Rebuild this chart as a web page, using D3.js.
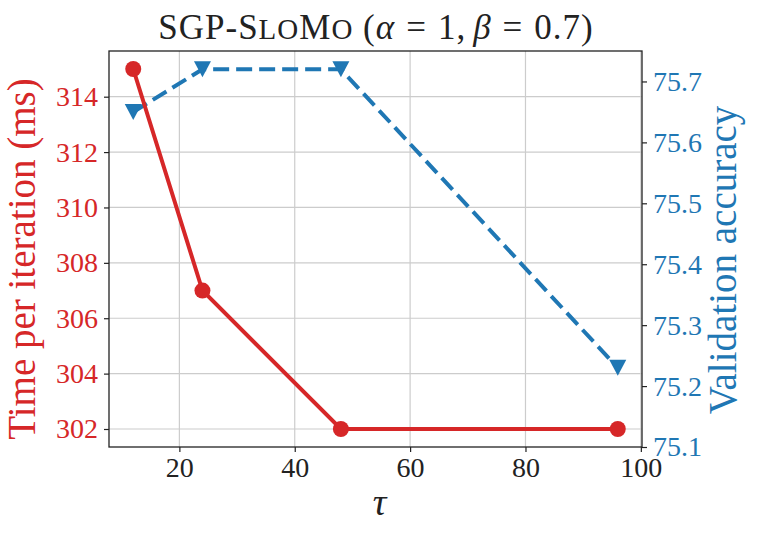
<!DOCTYPE html>
<html>
<head>
<meta charset="utf-8">
<script src="https://cdn.jsdelivr.net/npm/d3@7"></script>
<style>
  body { margin: 0; background: #fff; }
  svg text { font-family: "Liberation Serif", "Times New Roman", serif; }
</style>
</head>
<body>
<script>
// data
var taus = [12, 24, 48, 96];
var timeMs = [315, 307, 302, 302];
var accuracy = [75.65, 75.72, 75.72, 75.23];
var xTicks = [20, 40, 60, 80, 100];
var timeTicks = [302, 304, 306, 308, 310, 312, 314];
var accTicks = [75.1, 75.2, 75.3, 75.4, 75.5, 75.6, 75.7];

var red = "#d62728", blue = "#1f77b4";
var margin = {left: 109, right: 119, top: 51, bottom: 94};
var width = 761 - margin.left - margin.right;
var height = 541 - margin.top - margin.bottom;

var svg = d3.select("body").append("svg")
  .attr("width", 761)
  .attr("height", 541);

var g = svg.append("g")
  .attr("transform", "translate(" + margin.left + "," + margin.top + ")");

var x = d3.scaleLinear().domain([7.8, 100.2]).range([0, width]);
var yL = d3.scaleLinear().domain([301.35, 315.65]).range([height, 0]);
var yR = d3.scaleLinear().domain([75.1, 75.75]).range([height, 0]);

// grid
g.append("g").selectAll("line").data(xTicks)
  .enter().append("line")
  .attr("x1", function(d) { return x(d); }).attr("x2", function(d) { return x(d); })
  .attr("y1", 0).attr("y2", height)
  .attr("stroke", "#cccccc").attr("stroke-width", 1.2);
g.append("g").selectAll("line").data(timeTicks)
  .enter().append("line")
  .attr("y1", function(d) { return yL(d); }).attr("y2", function(d) { return yL(d); })
  .attr("x1", 0).attr("x2", width)
  .attr("stroke", "#cccccc").attr("stroke-width", 1.2);

// axes
function styleAxis(sel, color) {
  sel.attr("font-family", null).attr("font-size", null);
  sel.select(".domain").remove();
  sel.selectAll(".tick line").attr("stroke", "#222").attr("stroke-width", 1.2);
  sel.selectAll(".tick text")
    .attr("fill", color)
    .attr("font-size", "28px");
}

g.append("g")
  .attr("transform", "translate(0," + height + ")")
  .call(d3.axisBottom(x).tickValues(xTicks).tickSize(5).tickPadding(5))
  .call(function(s) { styleAxis(s, "#222"); });

g.append("g")
  .call(d3.axisLeft(yL).tickValues(timeTicks).tickSize(5).tickPadding(6))
  .call(function(s) { styleAxis(s, red); });

g.append("g")
  .attr("transform", "translate(" + width + ",0)")
  .call(d3.axisRight(yR).tickValues(accTicks).tickSize(5).tickPadding(6).tickFormat(d3.format(".1f")))
  .call(function(s) { styleAxis(s, blue); });

// frame
g.append("rect")
  .attr("width", width).attr("height", height)
  .attr("fill", "none").attr("stroke", "#222").attr("stroke-width", 1.3);

// accuracy series (dashed, triangles)
var accLine = d3.line()
  .x(function(d, i) { return x(taus[i]); })
  .y(function(d) { return yR(d); });
g.append("path").datum(accuracy)
  .attr("d", accLine)
  .attr("fill", "none").attr("stroke", blue)
  .attr("stroke-width", 4).attr("stroke-dasharray", "16,7");
g.selectAll(".tri").data(accuracy).enter().append("path")
  .attr("class", "tri")
  .attr("transform", function(d, i) { return "translate(" + x(taus[i]) + "," + yR(d) + ")"; })
  .attr("d", "M-8.5,-8L8.5,-8L0,8Z")
  .attr("fill", blue);

// time series (solid, circles)
var timeLine = d3.line()
  .x(function(d, i) { return x(taus[i]); })
  .y(function(d) { return yL(d); });
g.append("path").datum(timeMs)
  .attr("d", timeLine)
  .attr("fill", "none").attr("stroke", red).attr("stroke-width", 4);
g.selectAll(".dot").data(timeMs).enter().append("circle")
  .attr("class", "dot")
  .attr("cx", function(d, i) { return x(taus[i]); })
  .attr("cy", function(d) { return yL(d); })
  .attr("r", 8)
  .attr("fill", red);

// labels
var midL = margin.top + height / 2 + 10;
svg.append("text")
  .attr("x", 21).attr("y", midL)
  .attr("transform", "rotate(-90,21," + midL + ")")
  .attr("text-anchor", "middle").attr("dominant-baseline", "central")
  .attr("font-size", "39px").attr("fill", red)
  .text("Time per iteration (ms)");

var midR = margin.top + height / 2 + 11;
svg.append("text")
  .attr("x", 722).attr("y", midR)
  .attr("transform", "rotate(-90,722," + midR + ")")
  .attr("text-anchor", "middle").attr("dominant-baseline", "central")
  .attr("font-size", "39px").attr("fill", blue)
  .text("Validation accuracy");

svg.append("text")
  .attr("x", margin.left + width / 2 + 4).attr("y", 515)
  .attr("text-anchor", "middle")
  .attr("font-size", "38px").attr("font-style", "italic").attr("fill", "#222")
  .text("τ");

var title = svg.append("text")
  .attr("x", 376).attr("y", 39)
  .attr("text-anchor", "middle")
  .attr("letter-spacing", "1px")
  .attr("font-size", "35px").attr("fill", "#222");
title.append("tspan").text("SGP-S");
title.append("tspan").attr("font-size", "29px").text("LO");
title.append("tspan").text("M");
title.append("tspan").attr("font-size", "29px").text("O");
title.append("tspan").text(" (");
title.append("tspan").attr("font-style", "italic").text("α");
title.append("tspan").attr("dx", 11).text("=");
title.append("tspan").attr("dx", 11).text("1,");
title.append("tspan").attr("dx", 7).attr("font-style", "italic").text("β");
title.append("tspan").attr("dx", 11).text("=");
title.append("tspan").attr("dx", 11).text("0.7)");
</script>
</body>
</html>
